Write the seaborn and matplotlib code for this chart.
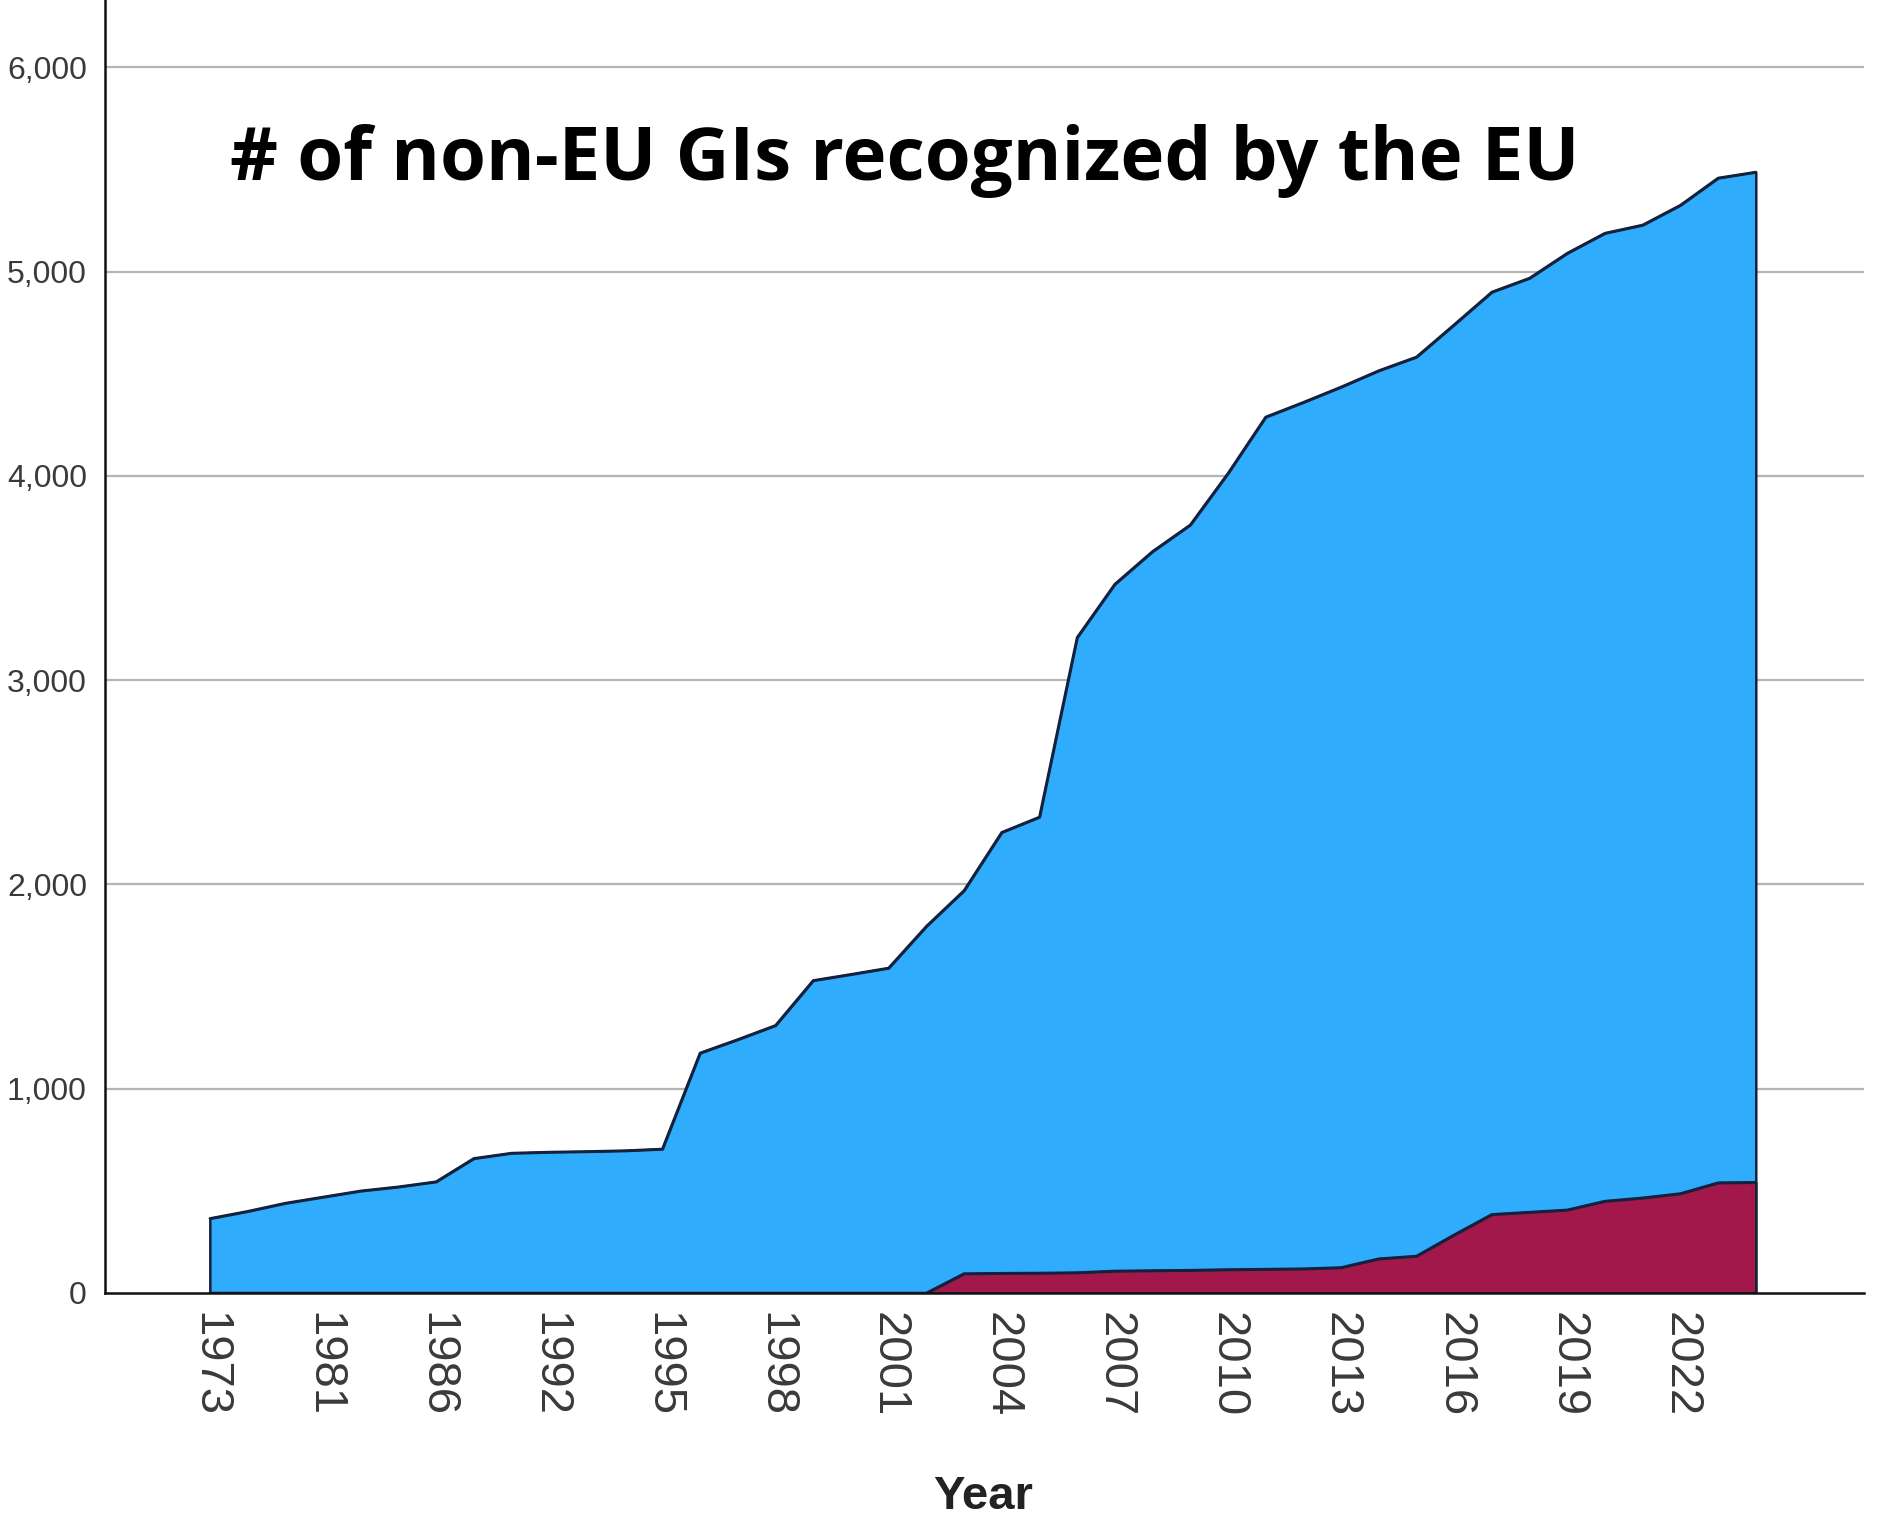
import numpy as np
import pandas as pd
import matplotlib
matplotlib.use("Agg")
import matplotlib.pyplot as plt
import seaborn as sns

# category labels on the x axis (every third one is shown)
years = ["1973", "1977", "1979", "1981", "1982", "1985", "1986", "1988", "1990",
         "1992", "1993", "1994", "1995", "1996", "1997", "1998", "1999", "2000",
         "2001", "2002", "2003", "2004", "2005", "2006", "2007", "2008", "2009",
         "2010", "2011", "2012", "2013", "2014", "2015", "2016", "2017", "2018",
         "2019", "2020", "2021", "2022", "2023", "2024"]

# top of the stack (cumulative total)
total_gis = [365, 400, 440, 470, 500, 520, 545, 659, 685, 690,
             693, 697, 705, 1175, 1241, 1310, 1530, 1560, 1591, 1795,
             1970, 2255, 2330, 3209, 3470, 3630, 3760, 4012, 4288, 4360,
             4435, 4515, 4582, 4740, 4900, 4968, 5090, 5188, 5228, 5325,
             5458, 5487]

# lower (maroon) series
lower_gis = [0, 0, 0, 0, 0, 0, 0, 0, 0, 0,
             0, 0, 0, 0, 0, 0, 0, 0, 0, 0,
             95, 97, 98, 100, 108, 110, 112, 115, 117, 119,
             125, 168, 181, 285, 385, 396, 407, 450, 466, 487,
             540, 542]

BLUE = "#30ACFD"
MAROON = "#A3184A"
EDGE = "#14213d"

df = pd.DataFrame({"year": years, "total": total_gis, "lower": lower_gis})
df["pos"] = np.arange(len(df))

sns.set_style("white")
plt.rcParams["font.family"] = ["Liberation Sans", "DejaVu Sans"]

fig = plt.figure(figsize=(18.83, 15.17), dpi=100)
ax = fig.add_axes([105 / 1883, 1 - 1293 / 1517, (1864 - 105) / 1883, 1293 / 1517])

# gridlines behind the areas
for v in range(1000, 7000, 1000):
    ax.axhline(v, color="#b4b4b4", lw=1.6, zorder=0)

ax.fill_between(df["pos"], 0, df["total"], color=BLUE, edgecolor=EDGE, lw=1.8, zorder=2)
ax.fill_between(df["pos"], 0, df["lower"], color=MAROON, edgecolor=EDGE, lw=1.8, zorder=3)
sns.lineplot(data=df, x="pos", y="total", color=EDGE, lw=1.8, ax=ax, zorder=4)
sns.lineplot(data=df, x="pos", y="lower", color=EDGE, lw=1.8, ax=ax, zorder=4)

ax.set_xlim(-2.78, 43.87)
ax.set_ylim(0, 6329)

ax.set_yticks(range(0, 7000, 1000))
ax.set_yticklabels([f"{v:,}" for v in range(0, 7000, 1000)], fontsize=23, color="#3a3a3a")
ax.set_xticks(df["pos"][::3])
ax.set_xticklabels(df["year"][::3], rotation=-90, fontsize=34, color="#3a3a3a")
ax.tick_params(axis="y", length=0, pad=13)
ax.tick_params(axis="x", length=0, pad=14)

for s in ["top", "right"]:
    ax.spines[s].set_visible(False)
ax.spines["left"].set_color("#111111")
ax.spines["left"].set_linewidth(1.8)
ax.spines["bottom"].set_color("#111111")
ax.spines["bottom"].set_linewidth(1.8)
ax.spines["bottom"].set_zorder(5)

ax.set_ylabel("")
ax.set_xlabel("Year", fontsize=34, fontweight="bold", color="#222222")
ax.xaxis.set_label_coords(0.499, -0.141)

fig.text(905 / 1883, 1 - 180 / 1517, "# of non-EU GIs recognized by the EU",
         ha="center", va="baseline", fontsize=53.5, fontweight="bold",
         family=["Open Sans", "DejaVu Sans"], color="black")

fig.savefig("out.png", dpi=100)
